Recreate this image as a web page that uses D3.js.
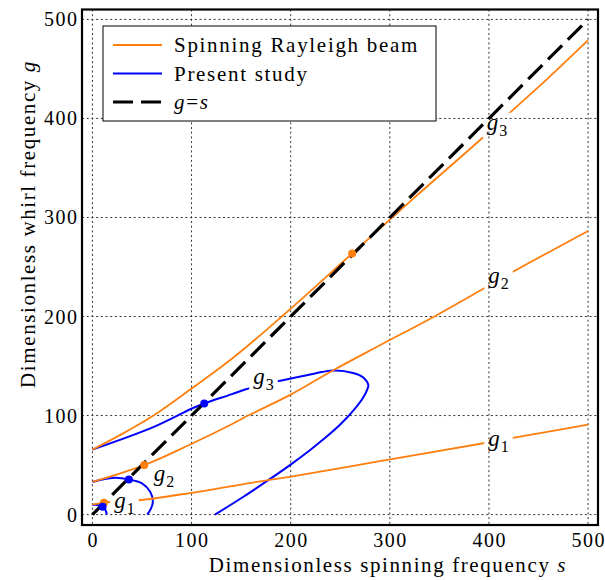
<!DOCTYPE html>
<html>
<head>
<meta charset="utf-8">
<script src="https://cdn.jsdelivr.net/npm/d3@7"></script>
</head>
<body style="margin:0; background:#fff">
<div id="canvas"></div>
<script>
"use strict";

let svgWidth = 605;
let svgHeight = 580;

// ---- data (s, g) ----
let ticks = [0, 100, 200, 300, 400, 500];

// Spinning Rayleigh beam
let rayleighG1 = [[0, 10], [11.6, 12], [16, 12.6], [43, 14], [100, 22], [177, 34.8], [199, 38.1],
  [290, 54], [393, 71.8], [421, 76.9], [500, 90.9]];
let rayleighG2 = [[0, 33], [52.3, 50], [97, 70], [141, 91.5], [156, 99.5], [199, 120.6], [243, 145.8],
  [290, 171], [344, 199.6], [393, 227.3], [421, 243.4], [500, 286.4]];
let rayleighG3 = [[0, 65.6], [30, 81.5], [62, 100.4], [100, 127.3], [141, 157.6], [191, 200],
  [262, 263.6], [323.7, 319], [393, 380], [418, 403], [460, 441], [500, 479]];

// Present study
let presentG1 = [[0, 9.6], [4, 9.8], [8, 9], [10.3, 7.9], [12.5, 5.5], [14, 2.5], [14.3, 0]];
let presentG2 = [[0, 33], [10, 35.5], [23, 37.1], [36.8, 35.5], [50, 31.5], [58.3, 23], [61, 13],
  [59, 6], [55.3, 0]];
let presentG3 = [[0, 65.6], [62, 88.5], [100.4, 107.1], [112.8, 112.2], [140.8, 121.6], [153.9, 126.3],
  [184, 134], [215, 140.5], [243, 145.5], [263, 143], [273.3, 138.4], [278.3, 130.7], [277.5, 127],
  [273, 118], [264, 106], [250, 91], [233, 76], [220, 65.5], [199.3, 50], [177.4, 34.8],
  [150, 16.5], [123.6, 0]];

// g = s reference line
let diagonal = [[0, 0], [500, 500]];

// points where the branches meet g = s
let rayleighDots = [[11.6, 12], [52.3, 50], [262, 263.6]];
let presentDots = [[10.3, 7.9], [36.8, 35.5], [112.8, 112.2]];

// mode labels: [subscript, s, g] (baseline start)
let modeLabels = [["1", 399.3, 69.3], ["2", 399.3, 234.2], ["3", 397.7, 388.5],
  ["1", 22, 6.9], ["2", 61.8, 34], ["3", 162.3, 131.4]];

let legendNames = ["Spinning Rayleigh beam", "Present study"];

let orange = "#ff7f0e";
let blue = "#0000ff";
let serif = "'Liberation Serif', serif";

let svg = d3.select("#canvas")
  .append("svg")
  .attr("width", svgWidth)
  .attr("height", svgHeight);

// every text gets its font set on itself
function addText(parent, size) {
  return parent.append("text")
    .attr("font-family", serif)
    .style("font-family", serif)
    .attr("font-size", size)
    .attr("fill", "#000");
}

let plotLeft = 82, plotRight = 598, plotTop = 9.5, plotBottom = 525;

let xScale = d3.scaleLinear().domain([-10.5, 510]).range([plotLeft, plotRight]);
let yScale = d3.scaleLinear().domain([-10.5, 510]).range([plotBottom, plotTop]);

/* grid */
let grid = svg.append("g")
  .attr("stroke", "#333")
  .attr("stroke-width", 1)
  .attr("stroke-dasharray", "2,2.7");
ticks.forEach(function(t) {
  grid.append("line")
    .attr("x1", xScale(t)).attr("x2", xScale(t))
    .attr("y1", plotTop).attr("y2", plotBottom);
  grid.append("line")
    .attr("x1", plotLeft).attr("x2", plotRight)
    .attr("y1", yScale(t)).attr("y2", yScale(t));
});

/* tick labels */
ticks.forEach(function(t) {
  addText(svg, 20)
    .attr("x", xScale(t) + 0.75)
    .attr("y", 547)
    .attr("text-anchor", "middle")
    .attr("letter-spacing", 1.5)
    .text(t);
  addText(svg, 20)
    .attr("x", 78.5)
    .attr("y", yScale(t) + 7)
    .attr("text-anchor", "end")
    .attr("letter-spacing", 1.5)
    .text(t);
});

/* curves (masked under the mode labels) */
let defs = svg.append("defs");
let mask = defs.append("mask")
  .attr("id", "labelMask")
  .attr("maskUnits", "userSpaceOnUse")
  .attr("x", 0).attr("y", 0)
  .attr("width", svgWidth).attr("height", svgHeight);
mask.append("rect")
  .attr("width", svgWidth).attr("height", svgHeight)
  .attr("fill", "white");

let line = d3.line()
  .x(function(d) { return xScale(d[0]); })
  .y(function(d) { return yScale(d[1]); })
  .curve(d3.curveCatmullRom.alpha(0.5));

let curves = svg.append("g").attr("mask", "url(#labelMask)");

[presentG1, presentG2, presentG3].forEach(function(c) {
  curves.append("path")
    .attr("d", line(c))
    .attr("fill", "none")
    .attr("stroke", blue)
    .attr("stroke-width", 2);
});
[rayleighG1, rayleighG2, rayleighG3].forEach(function(c) {
  curves.append("path")
    .attr("d", line(c))
    .attr("fill", "none")
    .attr("stroke", orange)
    .attr("stroke-width", 1.8);
});

svg.append("path")
  .attr("d", d3.line().x(d => xScale(d[0])).y(d => yScale(d[1]))(diagonal))
  .attr("fill", "none")
  .attr("stroke", "#000")
  .attr("stroke-width", 3.2)
  .attr("stroke-dasharray", "20,8");

rayleighDots.forEach(function(d) {
  svg.append("circle")
    .attr("cx", xScale(d[0])).attr("cy", yScale(d[1]))
    .attr("r", 4).attr("fill", orange);
});
presentDots.forEach(function(d) {
  svg.append("circle")
    .attr("cx", xScale(d[0])).attr("cy", yScale(d[1]))
    .attr("r", 4).attr("fill", blue);
});

/* mode labels */
modeLabels.forEach(function(d) {
  let t = addText(svg, 23)
    .attr("x", xScale(d[1]))
    .attr("y", yScale(d[2]));
  t.append("tspan").attr("font-style", "italic").style("font-style", "italic").text("g");
  t.append("tspan").attr("dy", 6).attr("dx", 1).attr("font-size", 16).text(d[0]);
  let bb = t.node().getBBox();
  mask.append("rect")
    .attr("x", bb.x - 4).attr("y", bb.y + 3)
    .attr("width", bb.width + 8).attr("height", bb.height - 4)
    .attr("fill", "black");
});

/* frame */
svg.append("rect")
  .attr("x", plotLeft).attr("y", plotTop)
  .attr("width", plotRight - plotLeft).attr("height", plotBottom - plotTop)
  .attr("fill", "none")
  .attr("stroke", "#000")
  .attr("stroke-width", 2.2);

/* legend */
let lg = svg.append("g");
lg.append("rect")
  .attr("x", 103).attr("y", 26)
  .attr("width", 333).attr("height", 95)
  .attr("fill", "#fff")
  .attr("stroke", "#000")
  .attr("stroke-width", 1);

let legendStyles = [
  { color: orange, width: 2, dash: null },
  { color: blue, width: 2, dash: null },
  { color: "#000", width: 3.2, dash: "20,8" }
];
legendStyles.forEach(function(st, i) {
  let ly = 45 + i * 28.5;
  lg.append("line")
    .attr("x1", 113).attr("x2", 162)
    .attr("y1", ly).attr("y2", ly)
    .attr("stroke", st.color)
    .attr("stroke-width", st.width)
    .attr("stroke-dasharray", st.dash);
  let t = addText(lg, 21)
    .attr("x", 174)
    .attr("y", ly + 7)
    .attr("letter-spacing", 1.7);
  if (i < 2) {
    t.text(legendNames[i]);
  } else {
    t.append("tspan").style("font-style", "italic").text("g");
    t.append("tspan").text("=");
    t.append("tspan").style("font-style", "italic").text("s");
  }
});

/* axis titles */
let xt = addText(svg, 21)
  .attr("x", 388)
  .attr("y", 572)
  .attr("text-anchor", "middle")
  .attr("letter-spacing", 1.6);
xt.append("tspan").text("Dimensionless spinning frequency ");
xt.append("tspan").style("font-style", "italic").text("s");

let yt = addText(svg, 21)
  .attr("transform", "translate(35,224) rotate(-90)")
  .attr("text-anchor", "middle")
  .attr("letter-spacing", 1.6);
yt.append("tspan").text("Dimensionless whirl frequency ");
yt.append("tspan").style("font-style", "italic").text("g");
</script>
</body>
</html>
